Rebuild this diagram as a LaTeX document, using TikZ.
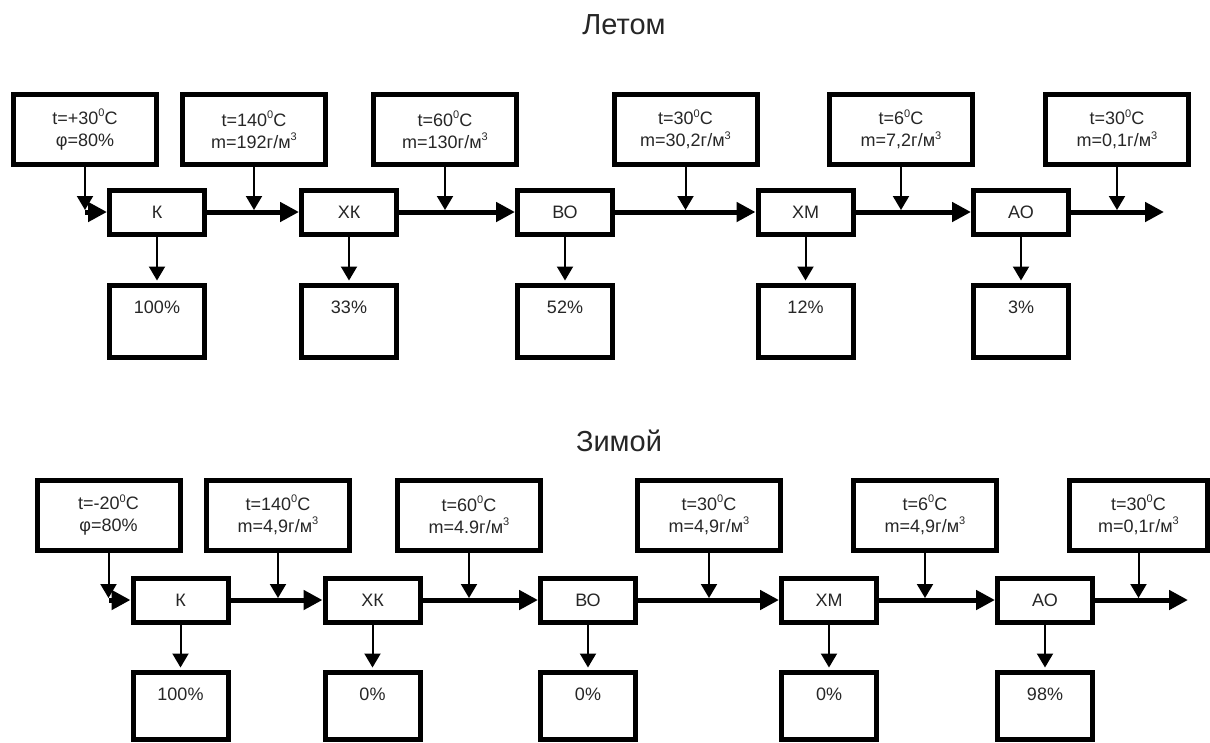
\documentclass[tikz,border=0pt]{standalone}
\usepackage{fontspec}
\setmainfont{Liberation Sans}
\usetikzlibrary{arrows.meta}
\definecolor{txt}{HTML}{262626}
\newcommand{\sps}[1]{\raisebox{0.42em}{\fontsize{11}{11}\selectfont #1}}
\begin{document}
\begin{tikzpicture}[x=1pt,y=-1pt,
 every node/.style={text=txt,font=\fontsize{18}{22}\selectfont},
 pbox/.style={draw=black,line width=5pt,minimum width=143pt,minimum height=70pt,inner sep=0pt,align=center},
 proc/.style={draw=black,line width=5pt,minimum width=95pt,minimum height=44pt,inner sep=0pt},
 res/.style={draw=black,line width=5pt,minimum width=95pt,inner sep=0pt},
 drop/.style={line width=2pt,-{Triangle[length=14pt,width=16pt]}},
 flow/.style={line width=5pt,-{Triangle[length=19pt,width=19pt]}},
 ttl/.style={font=\fontsize{29}{34}\selectfont,anchor=base},
 pct/.style={label={[anchor=north,inner sep=0pt,yshift=-17.5pt]north:#1}}
]
\useasboundingbox (0,0) rectangle (1210,742);

% ---------------- Summer ----------------
\node[ttl] (t1) at (624,34.5) {Летом};

\node[pbox] (a1) at (85,129.5)   {t=+30\sps{0}C\\φ=80\%};
\node[pbox] (a2) at (254,129.5)  {t=140\sps{0}C\\m=192г/м\sps{3}};
\node[pbox] (a3) at (445,129.5)  {t=60\sps{0}C\\m=130г/м\sps{3}};
\node[pbox] (a4) at (685.5,129.5){t=30\sps{0}C\\m=30,2г/м\sps{3}};
\node[pbox] (a5) at (901,129.5)  {t=6\sps{0}C\\m=7,2г/м\sps{3}};
\node[pbox] (a6) at (1117,129.5) {t=30\sps{0}C\\m=0,1г/м\sps{3}};

\node[proc] (k1) at (157,212)   {К};
\node[proc] (k2) at (349,212)   {ХК};
\node[proc] (k3) at (565,212)   {ВО};
\node[proc] (k4) at (805.5,212) {ХМ};
\node[proc] (k5) at (1021,212)  {АО};

\node[res,minimum height=72pt,pct=100\%] (r1) at (157,321.5) {};
\node[res,minimum height=72pt,pct=33\%]  (r2) at (349,321.5) {};
\node[res,minimum height=72pt,pct=52\%]  (r3) at (565,321.5) {};
\node[res,minimum height=72pt,pct=12\%]  (r4) at (805.5,321.5) {};
\node[res,minimum height=72pt,pct=3\%]   (r5) at (1021,321.5) {};

\coordinate (i1) at (85,212);
\coordinate (j1) at (85,210);
\coordinate (j2) at (254,210);
\coordinate (j3) at (445,210);
\coordinate (j4) at (685.5,210);
\coordinate (j5) at (901,210);
\coordinate (j6) at (1117,210);
\coordinate (e1) at (1164,212);

\draw[drop] (a1.south) -- (j1);
\draw[flow] (i1) -- (k1.west);
\draw[flow] (k1.east) -- (k2.west);
\draw[flow] (k2.east) -- (k3.west);
\draw[flow] (k3.east) -- (k4.west);
\draw[flow] (k4.east) -- (k5.west);
\draw[flow] (k5.east) -- (e1);
\draw[drop] (a2.south) -- (j2);
\draw[drop] (a3.south) -- (j3);
\draw[drop] (a4.south) -- (j4);
\draw[drop] (a5.south) -- (j5);
\draw[drop] (a6.south) -- (j6);
\foreach \i in {1,...,5}{\draw[drop,shorten >=2.5pt] (k\i.south) -- (r\i.north);}

% ---------------- Winter ----------------
\node[ttl] (t2) at (619,451) {Зимой};

\node[pbox] (b1) at (108.5,515) {t=-20\sps{0}C\\φ=80\%};
\node[pbox] (b2) at (278,515)   {t=140\sps{0}C\\m=4,9г/м\sps{3}};
\node[pbox] (b3) at (469,515)   {t=60\sps{0}C\\m=4.9г/м\sps{3}};
\node[pbox] (b4) at (709,515)   {t=30\sps{0}C\\m=4,9г/м\sps{3}};
\node[pbox] (b5) at (925,515)   {t=6\sps{0}C\\m=4,9г/м\sps{3}};
\node[pbox,minimum width=138pt] (b6) at (1138.5,515) {t=30\sps{0}C\\m=0,1г/м\sps{3}};

\node[proc] (m1) at (180.5,600) {К};
\node[proc] (m2) at (372.5,600) {ХК};
\node[proc] (m3) at (588,600)   {ВО};
\node[proc] (m4) at (829,600)   {ХМ};
\node[proc] (m5) at (1045,600)  {АО};

\node[res,minimum height=67pt,pct=100\%] (s1) at (180.5,706) {};
\node[res,minimum height=67pt,pct=0\%]   (s2) at (372.5,706) {};
\node[res,minimum height=67pt,pct=0\%]   (s3) at (588,706) {};
\node[res,minimum height=67pt,pct=0\%]   (s4) at (829,706) {};
\node[res,minimum height=67pt,pct=98\%]  (s5) at (1045,706) {};

\coordinate (i2) at (108.5,600);
\coordinate (h1) at (108.5,598);
\coordinate (h2) at (278,598);
\coordinate (h3) at (469,598);
\coordinate (h4) at (709,598);
\coordinate (h5) at (925,598);
\coordinate (h6) at (1138.5,598);
\coordinate (e2) at (1188,600);

\draw[drop] (b1.south) -- (h1);
\draw[flow] (i2) -- (m1.west);
\draw[flow] (m1.east) -- (m2.west);
\draw[flow] (m2.east) -- (m3.west);
\draw[flow] (m3.east) -- (m4.west);
\draw[flow] (m4.east) -- (m5.west);
\draw[flow] (m5.east) -- (e2);
\draw[drop] (b2.south) -- (h2);
\draw[drop] (b3.south) -- (h3);
\draw[drop] (b4.south) -- (h4);
\draw[drop] (b5.south) -- (h5);
\draw[drop] (b6.south) -- (h6);
\foreach \i in {1,...,5}{\draw[drop,shorten >=2.5pt] (m\i.south) -- (s\i.north);}
\end{tikzpicture}
\end{document}
